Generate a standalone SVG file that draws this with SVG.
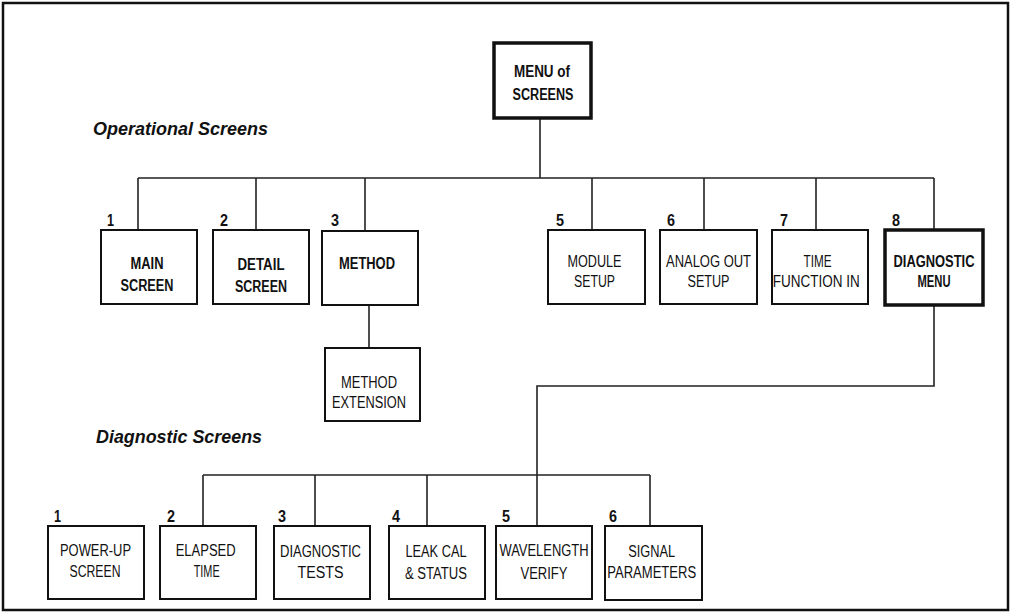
<svg xmlns="http://www.w3.org/2000/svg" width="1011" height="613" viewBox="0 0 1011 613">
<style>
.box{fill:#fff;stroke:#111;stroke-width:2}
.thick{fill:#fff;stroke:#111;stroke-width:3.5}
.wire{fill:none;stroke:#222;stroke-width:1.6}
text{font-family:"Liberation Sans",Arial,sans-serif;fill:#111}
.b{font-size:16px;font-weight:bold;text-anchor:middle}
.r{font-size:16px;text-anchor:middle}
.n{font-size:16px;font-weight:bold}
.h{font-size:19px;font-weight:bold;font-style:italic}
</style>
<rect x="3" y="3" width="1005" height="607" fill="#fff" stroke="#111" stroke-width="2.5"/>
<text class="h" x="93" y="135" textLength="175" lengthAdjust="spacingAndGlyphs">Operational Screens</text>
<text class="h" x="96" y="443" textLength="166" lengthAdjust="spacingAndGlyphs">Diagnostic Screens</text>
<g id="connectors">
<path class="wire" d="M540 118V178M138 178H934M138 178V230M256 178V230M365 178V231M592 178V230M704 178V230M816 178V230M934 178V230"/>
<path class="wire" d="M369 305V348"/>
<path class="wire" d="M934 305V386H537V526"/>
<path class="wire" d="M203 475H650M203 475V526M315 475V526M427 475V526M650 475V526"/>
</g>
<g id="menu">
<rect class="thick" x="494" y="43" width="97" height="75"/>
<text class="b" x="542" y="77" textLength="56" lengthAdjust="spacingAndGlyphs">MENU of</text>
<text class="b" x="543" y="100" textLength="61" lengthAdjust="spacingAndGlyphs">SCREENS</text>
</g>
<g id="op1">
<text class="n" x="107" y="226" textLength="7" lengthAdjust="spacingAndGlyphs">1</text>
<rect class="box" x="101" y="230" width="96" height="74"/>
<text class="b" x="147" y="269" textLength="33" lengthAdjust="spacingAndGlyphs">MAIN</text>
<text class="b" x="147" y="291" textLength="53" lengthAdjust="spacingAndGlyphs">SCREEN</text>
</g>
<g id="op2">
<text class="n" x="220" y="226" textLength="8" lengthAdjust="spacingAndGlyphs">2</text>
<rect class="box" x="213" y="230" width="96" height="74"/>
<text class="b" x="261" y="270" textLength="47" lengthAdjust="spacingAndGlyphs">DETAIL</text>
<text class="b" x="261" y="292" textLength="52" lengthAdjust="spacingAndGlyphs">SCREEN</text>
</g>
<g id="op3">
<text class="n" x="331" y="226" textLength="8" lengthAdjust="spacingAndGlyphs">3</text>
<rect class="box" x="322" y="231" width="96" height="74"/>
<text class="b" x="367" y="269" textLength="56" lengthAdjust="spacingAndGlyphs">METHOD</text>
</g>
<g id="methodext">
<rect class="box" x="325" y="348" width="95" height="73"/>
<text class="r" x="369" y="388" textLength="56" lengthAdjust="spacingAndGlyphs">METHOD</text>
<text class="r" x="369" y="408" textLength="74" lengthAdjust="spacingAndGlyphs">EXTENSION</text>
</g>
<g id="op5">
<text class="n" x="556" y="226" textLength="8" lengthAdjust="spacingAndGlyphs">5</text>
<rect class="box" x="548" y="230" width="97" height="74"/>
<text class="r" x="594.5" y="267" textLength="54" lengthAdjust="spacingAndGlyphs">MODULE</text>
<text class="r" x="594.5" y="287" textLength="41" lengthAdjust="spacingAndGlyphs">SETUP</text>
</g>
<g id="op6">
<text class="n" x="667" y="226" textLength="8" lengthAdjust="spacingAndGlyphs">6</text>
<rect class="box" x="660" y="230" width="97" height="74"/>
<text class="r" x="708.5" y="267" textLength="85" lengthAdjust="spacingAndGlyphs">ANALOG OUT</text>
<text class="r" x="708.5" y="287" textLength="42" lengthAdjust="spacingAndGlyphs">SETUP</text>
</g>
<g id="op7">
<text class="n" x="780" y="226" textLength="8" lengthAdjust="spacingAndGlyphs">7</text>
<rect class="box" x="772" y="230" width="96" height="74"/>
<text class="r" x="817.5" y="267" textLength="28" lengthAdjust="spacingAndGlyphs">TIME</text>
<text class="r" x="816.3" y="287" textLength="87" lengthAdjust="spacingAndGlyphs">FUNCTION IN</text>
</g>
<g id="op8">
<text class="n" x="892" y="226" textLength="8" lengthAdjust="spacingAndGlyphs">8</text>
<rect class="thick" x="885" y="230" width="98" height="75"/>
<text class="b" x="934" y="267" textLength="81" lengthAdjust="spacingAndGlyphs">DIAGNOSTIC</text>
<text class="b" x="934" y="287" textLength="33" lengthAdjust="spacingAndGlyphs">MENU</text>
</g>
<g id="d1">
<text class="n" x="54" y="522" textLength="7" lengthAdjust="spacingAndGlyphs">1</text>
<rect class="box" x="48" y="526" width="96" height="73"/>
<text class="r" x="95.5" y="556" textLength="71" lengthAdjust="spacingAndGlyphs">POWER-UP</text>
<text class="r" x="95" y="577" textLength="51" lengthAdjust="spacingAndGlyphs">SCREEN</text>
</g>
<g id="d2">
<text class="n" x="167" y="522" textLength="8" lengthAdjust="spacingAndGlyphs">2</text>
<rect class="box" x="160" y="526" width="96" height="73"/>
<text class="r" x="205.7" y="556" textLength="60" lengthAdjust="spacingAndGlyphs">ELAPSED</text>
<text class="r" x="206.7" y="577" textLength="26" lengthAdjust="spacingAndGlyphs">TIME</text>
</g>
<g id="d3">
<text class="n" x="278" y="522" textLength="8" lengthAdjust="spacingAndGlyphs">3</text>
<rect class="box" x="274" y="526" width="96" height="73"/>
<text class="r" x="320.5" y="557" textLength="81" lengthAdjust="spacingAndGlyphs">DIAGNOSTIC</text>
<text class="r" x="320.5" y="578" textLength="46" lengthAdjust="spacingAndGlyphs">TESTS</text>
</g>
<g id="d4">
<text class="n" x="392" y="522" textLength="8" lengthAdjust="spacingAndGlyphs">4</text>
<rect class="box" x="389" y="526" width="96" height="73"/>
<text class="r" x="436" y="557" textLength="61" lengthAdjust="spacingAndGlyphs">LEAK CAL</text>
<text class="r" x="436" y="579" textLength="62" lengthAdjust="spacingAndGlyphs">&amp; STATUS</text>
</g>
<g id="d5">
<text class="n" x="502" y="522" textLength="8" lengthAdjust="spacingAndGlyphs">5</text>
<rect class="box" x="496" y="526" width="96" height="73"/>
<text class="r" x="544" y="556" textLength="89" lengthAdjust="spacingAndGlyphs">WAVELENGTH</text>
<text class="r" x="544" y="579" textLength="47" lengthAdjust="spacingAndGlyphs">VERIFY</text>
</g>
<g id="d6">
<text class="n" x="609" y="522" textLength="8" lengthAdjust="spacingAndGlyphs">6</text>
<rect class="box" x="605" y="526" width="97" height="74"/>
<text class="r" x="651.7" y="557" textLength="47" lengthAdjust="spacingAndGlyphs">SIGNAL</text>
<text class="r" x="651.7" y="578" textLength="89" lengthAdjust="spacingAndGlyphs">PARAMETERS</text>
</g>
</svg>
